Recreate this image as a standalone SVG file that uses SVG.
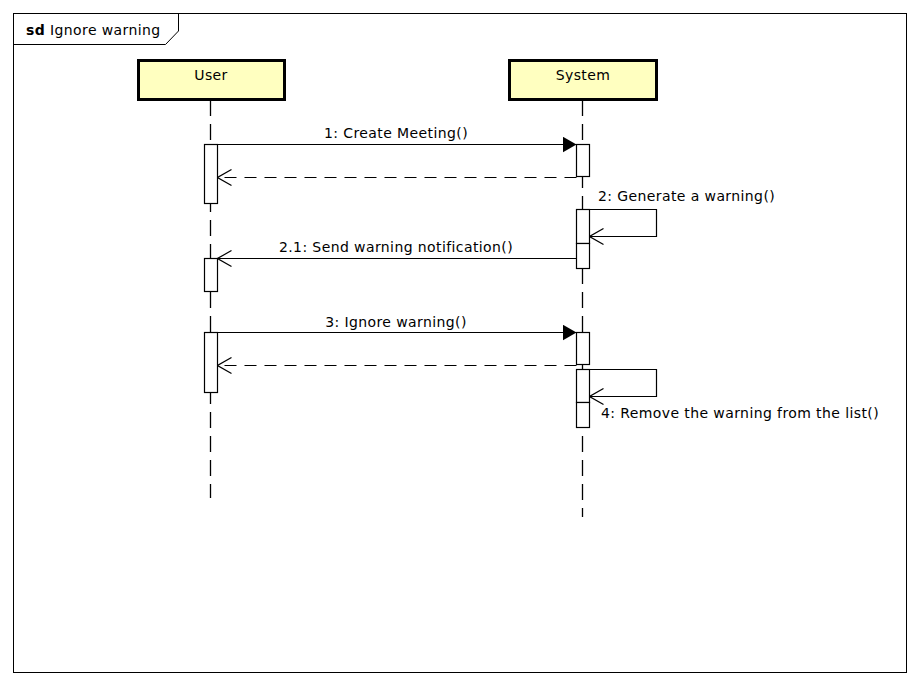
<svg xmlns="http://www.w3.org/2000/svg" width="920" height="685" viewBox="0 0 920 685">
<style>
text{font-family:"DejaVu Sans","Liberation Sans",sans-serif;font-size:14px;letter-spacing:0.4px;fill:#000}
.life{stroke:#000;stroke-width:1.3;stroke-dasharray:16 8;fill:none}
.act{fill:#fff;stroke:#000;stroke-width:1.2}
.msg{stroke:#000;stroke-width:1.2;fill:none}
.ret{stroke:#000;stroke-width:1.2;fill:none;stroke-dasharray:12 8}
.head{fill:#FFFFC0;stroke:#000;stroke-width:3}
</style>
<defs>
<marker id="filled" viewBox="0 0 14 16" refX="14" refY="8" markerWidth="14" markerHeight="16" markerUnits="userSpaceOnUse" orient="auto">
<path d="M0,0 L14,8 L0,16 Z" fill="#000"/>
</marker>
<marker id="open" viewBox="0 0 16 18" refX="15" refY="9" markerWidth="16" markerHeight="18" markerUnits="userSpaceOnUse" orient="auto">
<path d="M1,1 L15,9 L1,17" fill="none" stroke="#000" stroke-width="1.2"/>
</marker>
</defs>
<rect x="0" y="0" width="920" height="685" fill="#fff"/>
<g id="frame">
<rect x="13.5" y="13.5" width="893" height="659" fill="none" stroke="#000" stroke-width="1"/>
<path d="M13.5,44.5 H165.5 L178.5,31 V13.5" fill="none" stroke="#000" stroke-width="1"/>
<text x="26" y="35"><tspan font-weight="bold">sd</tspan> Ignore warning</text>
</g>
<g id="user">
<line class="life" x1="210.5" y1="100" x2="210.5" y2="498"/>
<rect class="head" x="138.5" y="60.5" width="146" height="39"/>
<text x="211" y="80" text-anchor="middle">User</text>
<rect class="act" x="204.5" y="144.5" width="13" height="59"/>
<rect class="act" x="204.5" y="258.5" width="13" height="33"/>
<rect class="act" x="204.5" y="332.5" width="13" height="60"/>
</g>
<g id="system">
<line class="life" x1="582.5" y1="100" x2="582.5" y2="517"/>
<rect class="head" x="509.5" y="60.5" width="147" height="39"/>
<text x="583" y="80" text-anchor="middle">System</text>
<rect class="act" x="576.5" y="144.5" width="13" height="32"/>
<rect class="act" x="576.5" y="209.5" width="13" height="34"/>
<rect class="act" x="576.5" y="243.5" width="13" height="25"/>
<rect class="act" x="576.5" y="332.5" width="13" height="32"/>
<rect class="act" x="576.5" y="369.5" width="13" height="33"/>
<rect class="act" x="576.5" y="402.5" width="13" height="25"/>
</g>
<g id="connectors">
<line class="msg" x1="217.5" y1="144.5" x2="576.5" y2="144.5" marker-end="url(#filled)"/>
<text x="396" y="138" text-anchor="middle">1: Create Meeting()</text>
<line class="ret" x1="576.5" y1="177.5" x2="217.5" y2="177.5" marker-end="url(#open)"/>
<polyline class="msg" points="589.5,209.5 656.5,209.5 656.5,236.5 589.5,236.5" marker-end="url(#open)"/>
<text x="598" y="201">2: Generate a warning()</text>
<line class="msg" x1="576.5" y1="258.5" x2="217.5" y2="258.5" marker-end="url(#open)"/>
<text x="396" y="252" text-anchor="middle">2.1: Send warning notification()</text>
<line class="msg" x1="217.5" y1="332.5" x2="576.5" y2="332.5" marker-end="url(#filled)"/>
<text x="396" y="327" text-anchor="middle">3: Ignore warning()</text>
<line class="ret" x1="576.5" y1="365.5" x2="217.5" y2="365.5" marker-end="url(#open)"/>
<polyline class="msg" points="589.5,369.5 656.5,369.5 656.5,396.5 589.5,396.5" marker-end="url(#open)"/>
<text x="601" y="418">4: Remove the warning from the list()</text>
</g>
</svg>
